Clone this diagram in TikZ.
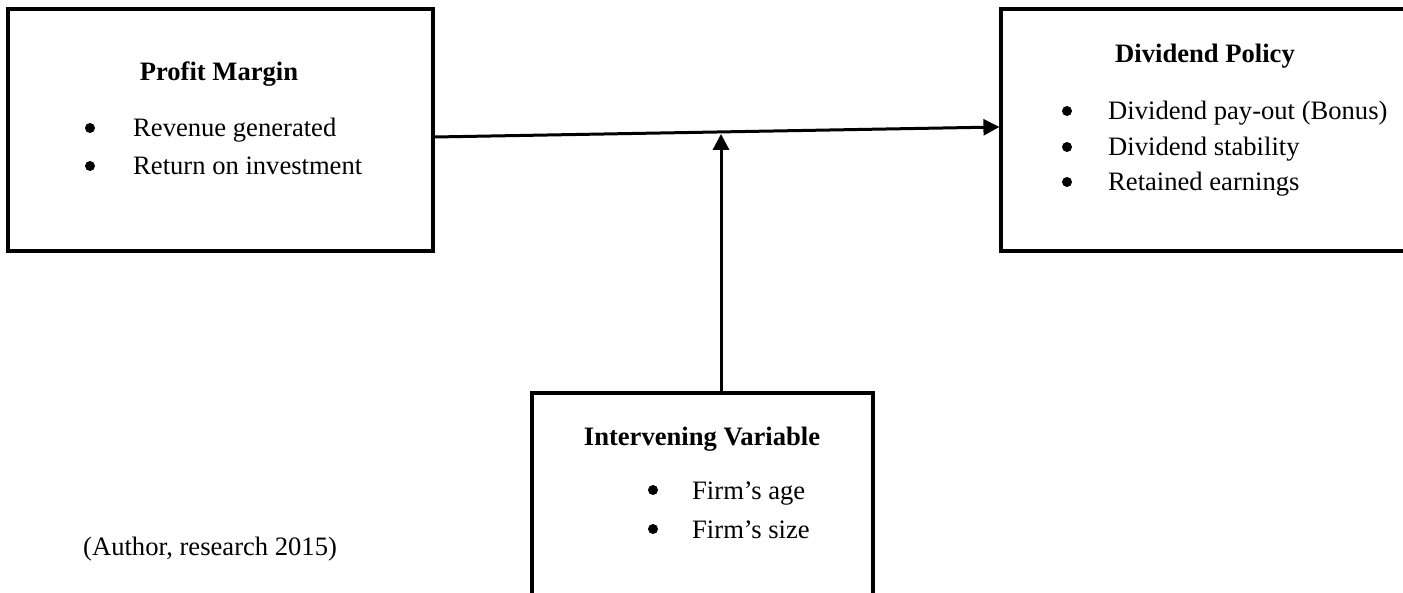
\documentclass[tikz,border=0pt]{standalone}
\usepackage{fontspec}
\setmainfont{Liberation Serif}
\usetikzlibrary{arrows.meta,calc}
\begin{document}
\begin{tikzpicture}[x=1pt,y=-1pt,
  box/.style={draw,rectangle,line width=3.2pt,inner sep=0pt},
  head/.style={font=\bfseries\fontsize{26.6}{32}\selectfont,anchor=base,inner sep=0pt},
  item/.style={font=\fontsize{26.6}{32}\selectfont,anchor=base west,inner sep=0pt},
  dot/.style={circle,fill,inner sep=0pt,minimum size=10pt},
  link/.style={line width=3pt,-{Triangle[length=16pt,width=16pt]}}]
\useasboundingbox (0,0) rectangle (1403,593);
\clip (0,0) rectangle (1403,593);

% the three boxes
\node[box,minimum width=425pt,minimum height=242pt] (pm) at (220.5,130) {};
\node[box,minimum width=419pt,minimum height=242pt] (dp) at (1210.5,130) {};
\node[box,minimum width=341pt,minimum height=227pt] (iv) at (702.5,506.5) {};

% Profit Margin
\node[head] (pmh) at (219,81) {Profit Margin};
\node[dot] (pmb1) at (90,128) {};
\node[item] (pmi1) at (133,137) {Revenue generated};
\node[dot] (pmb2) at (90,166) {};
\node[item] (pmi2) at (133,175) {Return on investment};

% Dividend Policy
\node[head] (dph) at (1205,63) {Dividend Policy};
\node[dot] (dpb1) at (1067,111) {};
\node[item] (dpi1) at (1108,120) {Dividend pay-out (Bonus)};
\node[dot] (dpb2) at (1067,147) {};
\node[item] (dpi2) at (1108,156) {Dividend stability};
\node[dot] (dpb3) at (1067,182) {};
\node[item] (dpi3) at (1108,191) {Retained earnings};

% Intervening Variable
\node[head] (ivh) at (702,445) {Intervening Variable};
\node[dot] (ivb1) at (653,490) {};
\node[item] (ivi1) at (692,499) {Firm’s age};
\node[dot] (ivb2) at (653,529) {};
\node[item] (ivi2) at (692,538) {Firm’s size};

% source note
\node[item] (src) at (83,555) {(Author, research 2015)};

% connectors
\coordinate (from) at ([yshift=-7pt]pm.east);
\coordinate (to) at ([yshift=3pt]dp.west);
\draw[link] (from) -- (to);
\coordinate (ivtop) at ([xshift=18.5pt]iv.north);
\coordinate (meet) at ($(from)!0.507!(to)+(0,2)$);
\draw[link] (ivtop) -- (ivtop |- meet);
\end{tikzpicture}
\end{document}
